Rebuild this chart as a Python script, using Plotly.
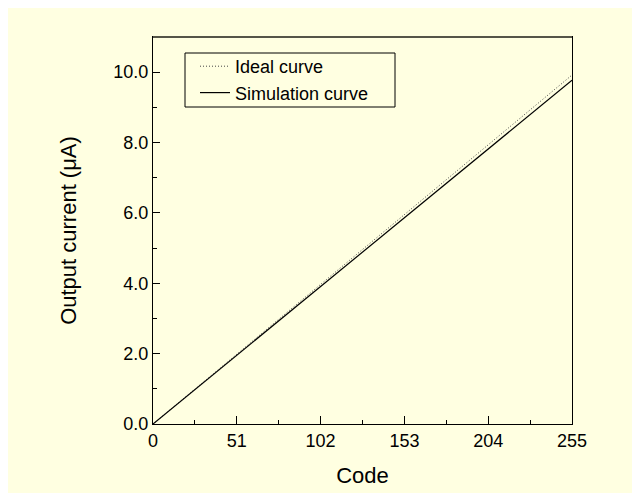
import plotly.graph_objects as go

# Data
codes = [0, 51, 102, 153, 204, 255]
ideal_current = [0.0, 1.984, 3.968, 5.952, 7.936, 9.92]
simulation_current = [0.0, 1.954, 3.908, 5.862, 7.816, 9.77]

x_tickvals = [0, 51, 102, 153, 204, 255]
y_tickvals = [0, 2, 4, 6, 8, 10]

BG = "#FFFFE1"
FONT = "Liberation Sans, Arial, sans-serif"

fig = go.Figure()
fig.add_trace(go.Scatter(
    x=codes, y=ideal_current, mode="lines", name="Ideal curve",
    line=dict(color="#444444", width=1, dash="1px,2px"),
))
fig.add_trace(go.Scatter(
    x=codes, y=simulation_current, mode="lines", name="Simulation curve",
    line=dict(color="black", width=1.2),
))

# legend frame
fig.add_shape(type="rect", xref="paper", yref="paper",
              x0=32 / 419, x1=242 / 419,
              y0=(424 - 107) / 387, y1=(424 - 53) / 387,
              line=dict(color="black", width=1), fillcolor="rgba(0,0,0,0)")
# darker top frame line
fig.add_shape(type="line", xref="paper", yref="paper",
              x0=0, x1=1, y0=1, y1=1,
              line=dict(color="#555548", width=2))

fig.update_layout(
    width=640, height=493,
    margin=dict(l=145, r=76, t=29, b=77),
    paper_bgcolor=BG,
    plot_bgcolor=BG,
    font=dict(family=FONT, size=18, color="black"),
    showlegend=True,
    legend=dict(
        x=(195 - 153) / 419, y=(424 - 48) / 387,
        xanchor="left", yanchor="top",
        bgcolor="rgba(0,0,0,0)",
        borderwidth=0,
        font=dict(size=18),
        tracegroupgap=0,
    ),
)

fig.update_xaxes(
    range=[0, 255], tickvals=x_tickvals,
    ticktext=[str(v) for v in x_tickvals],
    ticks="inside", ticklen=8, tickwidth=1, tickcolor="black",
    minor=dict(ticks="inside", ticklen=4, dtick=25.5, tick0=0, tickcolor="black"),
    showline=True, linecolor="black", linewidth=1, mirror=True,
    showgrid=False, zeroline=False,
    title=dict(text="Code", standoff=18),
    automargin=False,
)
fig.update_yaxes(
    range=[0, 11], tickvals=y_tickvals,
    ticktext=[f"{v:.1f}" for v in y_tickvals],
    ticks="inside", ticklen=7, tickwidth=1, tickcolor="black",
    minor=dict(ticks="inside", ticklen=4, dtick=1, tick0=0, tickcolor="black"),
    showline=True, linecolor="black", linewidth=1, mirror=True,
    showgrid=False, zeroline=False,
    title=dict(text="Output current (μA)", standoff=30),
    automargin=False,
)

fig.write_html("out.html")
